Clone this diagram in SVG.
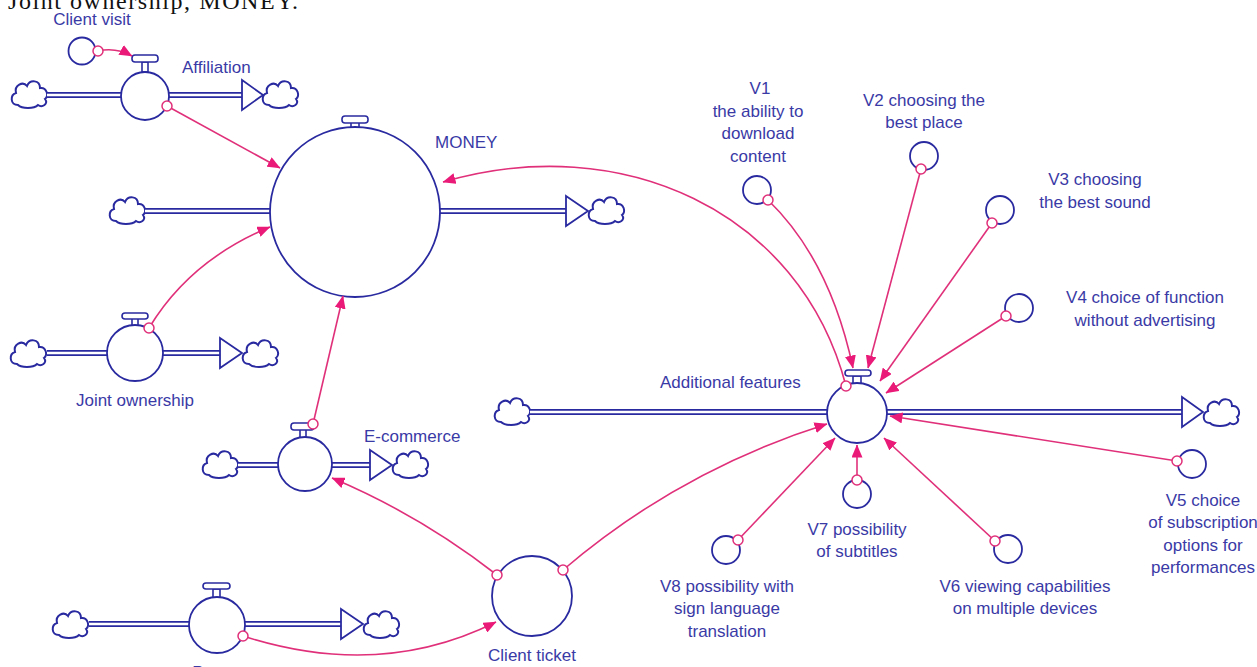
<svg xmlns="http://www.w3.org/2000/svg" width="1257" height="667" viewBox="0 0 1257 667">
<style>
.bg{fill:#ffffff}
.cl{fill:#fff;stroke:#2a2aa0;stroke-width:2}
.po{fill:none;stroke:#2a2aa0;stroke-width:6}
.pi{fill:none;stroke:#fff;stroke-width:2.4}
.vc{fill:#fff;stroke:#2a2aa0;stroke-width:1.8}
.hd{fill:#fff;stroke:#2a2aa0;stroke-width:1.6}
.tr{fill:#fff;stroke:#2a2aa0;stroke-width:1.8}
.lb{font-family:"Liberation Sans",Arial,sans-serif;font-size:17px;fill:#3a3aa6}
.mid{text-anchor:middle}
.cn{fill:none;stroke:#e0307a;stroke-width:1.6;marker-end:url(#ah)}
.sc{fill:#fff;stroke:#e0307a;stroke-width:1.5}
</style>
<defs>
<path id="cloud" class="cl" d="M-12,11 C-20,11 -20,1 -14,-1 C-16,-9 -7,-13 -3,-8 C0,-15 10,-14 10,-6 C17,-7 19,2 15,5 C19,10 12,14 8,11 C4,15 -8,15 -12,11 Z"/>
<marker id="ah" viewBox="0 0 13 11" refX="12.5" refY="5.5" markerWidth="13" markerHeight="11" markerUnits="userSpaceOnUse" orient="auto"><path d="M0,0 L13,5.5 L0,11 Z" fill="#ea1a78"/></marker>
</defs>
<rect class="bg" x="0" y="0" width="1257" height="667"/>
<text x="8" y="9" font-family="Liberation Serif,serif" font-size="24" fill="#111" textLength="290" lengthAdjust="spacing">Joint  ownership, MONEY.</text>

<g id="affiliation">
<use href="#cloud" x="30" y="94"/>
<path class="po" d="M47,95 H121 M169,95 H242"/><path class="pi" d="M47,95 H121 M169,95 H242"/>
<path class="tr" d="M242,80 L263,95 L242,110 Z"/>
<use href="#cloud" x="281" y="94"/>
<rect class="hd" x="142" y="62" width="6" height="10"/>
<rect class="hd" x="132" y="55" width="26" height="7" rx="3"/>
<circle class="vc" cx="145" cy="96" r="24"/>
<text class="lb" x="182" y="73">Affiliation</text>
</g>

<g id="client-visit">
<circle class="vc" cx="82" cy="51" r="13.5"/>
<text class="lb mid" x="92" y="25">Client visit</text>
</g>

<g id="money">
<use href="#cloud" x="128" y="210"/>
<path class="po" d="M145,211 H270 M440,211 H566"/><path class="pi" d="M145,211 H270 M440,211 H566"/>
<path class="tr" d="M566,196 L588,211 L566,226 Z"/>
<use href="#cloud" x="607" y="210"/>
<rect class="hd" x="351" y="122" width="8" height="6"/>
<rect class="hd" x="342" y="116" width="26" height="7" rx="3"/>
<circle class="vc" cx="355" cy="212" r="85"/>
<text class="lb" x="435" y="148">MONEY</text>
</g>

<g id="joint-ownership">
<use href="#cloud" x="29" y="353"/>
<path class="po" d="M47,353 H107 M163,353 H220"/><path class="pi" d="M47,353 H107 M163,353 H220"/>
<path class="tr" d="M220,338 L242,353 L220,368 Z"/>
<use href="#cloud" x="261" y="353"/>
<rect class="hd" x="132" y="318" width="6" height="8"/>
<rect class="hd" x="122" y="313" width="26" height="6" rx="3"/>
<circle class="vc" cx="135" cy="353" r="28"/>
<text class="lb mid" x="135" y="406">Joint ownership</text>
</g>

<g id="e-commerce">
<use href="#cloud" x="221" y="464"/>
<path class="po" d="M238,465 H278 M332,465 H370"/><path class="pi" d="M238,465 H278 M332,465 H370"/>
<path class="tr" d="M370,450 L392,465 L370,480 Z"/>
<use href="#cloud" x="411" y="464"/>
<rect class="hd" x="300" y="429" width="6" height="9"/>
<rect class="hd" x="291" y="423" width="23" height="7" rx="3"/>
<circle class="vc" cx="305" cy="464" r="27"/>
<text class="lb" x="364" y="442">E-commerce</text>
</g>

<g id="partner">
<use href="#cloud" x="71" y="624"/>
<path class="po" d="M89,624 H189 M245,624 H341"/><path class="pi" d="M89,624 H189 M245,624 H341"/>
<path class="tr" d="M341,609 L363,624 L341,639 Z"/>
<use href="#cloud" x="382" y="624"/>
<rect class="hd" x="213" y="589" width="7" height="9"/>
<rect class="hd" x="203" y="583" width="27" height="6" rx="3"/>
<circle class="vc" cx="217" cy="625" r="28"/>
<text class="lb mid" x="220" y="678">Partner</text>
</g>

<g id="client-ticket">
<circle class="vc" cx="532" cy="596" r="40"/>
<text class="lb mid" x="532" y="661">Client ticket</text>
</g>

<g id="additional-features">
<use href="#cloud" x="513" y="411"/>
<path class="po" d="M530,412 H827 M887,412 H1182"/><path class="pi" d="M530,412 H827 M887,412 H1182"/>
<path class="tr" d="M1182,397 L1203,412 L1182,427 Z"/>
<use href="#cloud" x="1222" y="412"/>
<rect class="hd" x="853" y="376" width="8" height="8"/>
<rect class="hd" x="845" y="370" width="26" height="6" rx="3"/>
<circle class="vc" cx="857" cy="413" r="30"/>
<text class="lb" x="660" y="388">Additional features</text>
</g>

<g id="v1">
<circle class="vc" cx="757" cy="190" r="14"/>
<text class="lb mid" x="760" y="94">V1</text>
<text class="lb mid" x="758" y="117">the ability to</text>
<text class="lb mid" x="758" y="139">download</text>
<text class="lb mid" x="758" y="162">content</text>
</g>
<g id="v2">
<circle class="vc" cx="924" cy="156" r="14"/>
<text class="lb mid" x="924" y="106">V2 choosing the</text>
<text class="lb mid" x="924" y="128">best place</text>
</g>
<g id="v3">
<circle class="vc" cx="1000" cy="210" r="14"/>
<text class="lb mid" x="1095" y="185">V3 choosing</text>
<text class="lb mid" x="1095" y="208">the best sound</text>
</g>
<g id="v4">
<circle class="vc" cx="1019" cy="308" r="14"/>
<text class="lb mid" x="1145" y="303">V4 choice of function</text>
<text class="lb mid" x="1145" y="326">without advertising</text>
</g>
<g id="v5">
<circle class="vc" cx="1192" cy="464" r="14"/>
<text class="lb mid" x="1203" y="506">V5 choice</text>
<text class="lb mid" x="1203" y="528">of subscription</text>
<text class="lb mid" x="1203" y="551">options for</text>
<text class="lb mid" x="1203" y="573">performances</text>
</g>
<g id="v6">
<circle class="vc" cx="1008" cy="549" r="14"/>
<text class="lb mid" x="1025" y="592">V6 viewing capabilities</text>
<text class="lb mid" x="1025" y="614">on multiple devices</text>
</g>
<g id="v7">
<circle class="vc" cx="857" cy="494" r="14"/>
<text class="lb mid" x="857" y="535">V7 possibility</text>
<text class="lb mid" x="857" y="557">of subtitles</text>
</g>
<g id="v8">
<circle class="vc" cx="726" cy="550" r="14"/>
<text class="lb mid" x="727" y="592">V8 possibility with</text>
<text class="lb mid" x="727" y="614">sign language</text>
<text class="lb mid" x="727" y="637">translation</text>
</g>

<g id="connectors">
<path class="cn" d="M98,51 Q116,47 132,56"/>
<path class="cn" d="M167,106 L280,168"/>
<path class="cn" d="M149,328 Q190,260 270,227"/>
<path class="cn" d="M313,424 L343,296"/>
<path class="cn" d="M497,575 Q420,515 332,478"/>
<path class="cn" d="M243,636 Q380,680 496,622"/>
<path class="cn" d="M563,570 Q680,470 827,424"/>
<path class="cn" d="M846,386 C800,210 620,130 443,182"/>
<path class="cn" d="M768,200 Q830,260 853,368"/>
<path class="cn" d="M921,169 L868,368"/>
<path class="cn" d="M992,223 L880,381"/>
<path class="cn" d="M1006,316 L886,393"/>
<path class="cn" d="M1177,461 L890,416"/>
<path class="cn" d="M995,541 L884,438"/>
<path class="cn" d="M857,480 L857,445"/>
<path class="cn" d="M738,540 L835,438"/>
<circle class="sc" cx="98" cy="51" r="5"/>
<circle class="sc" cx="167" cy="106" r="5"/>
<circle class="sc" cx="149" cy="328" r="5"/>
<circle class="sc" cx="313" cy="424" r="5"/>
<circle class="sc" cx="497" cy="575" r="5"/>
<circle class="sc" cx="243" cy="636" r="5"/>
<circle class="sc" cx="563" cy="570" r="5"/>
<circle class="sc" cx="846" cy="386" r="5"/>
<circle class="sc" cx="768" cy="200" r="5"/>
<circle class="sc" cx="921" cy="169" r="5"/>
<circle class="sc" cx="992" cy="223" r="5"/>
<circle class="sc" cx="1006" cy="316" r="5"/>
<circle class="sc" cx="1177" cy="461" r="5"/>
<circle class="sc" cx="995" cy="541" r="5"/>
<circle class="sc" cx="857" cy="480" r="5"/>
<circle class="sc" cx="738" cy="540" r="5"/>
</g>
</svg>
